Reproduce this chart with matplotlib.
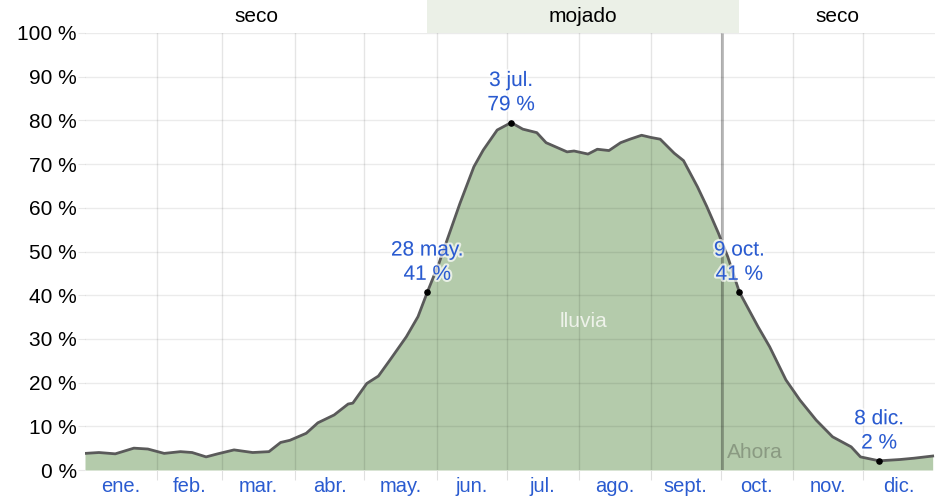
import matplotlib
matplotlib.use("Agg")
import matplotlib.pyplot as plt
import matplotlib.patheffects as pe
from matplotlib.patches import Rectangle
import numpy as np

plt.rcParams['font.family'] = ['Liberation Sans', 'DejaVu Sans']

# === Dati (giorno dell'anno, probabilita' di pioggia %)
giorni = [0, 6, 13, 21, 27, 34, 41, 46, 52, 57, 64, 72, 79, 84, 88, 95,
          100, 107, 113, 115, 121, 126, 131, 138, 143, 147, 152, 155, 161,
          167, 171, 177, 183, 188, 194, 198, 207, 210, 216, 220, 225, 230,
          234, 239, 243, 247, 253, 257, 263, 267, 272, 276, 281, 289, 294,
          301, 307, 314, 321, 329, 333, 341, 350, 356, 364]
valori = [3.8, 4.0, 3.7, 5.0, 4.8, 3.8, 4.2, 4.0, 3.0, 3.7, 4.6, 4.0, 4.2,
          6.3, 6.8, 8.4, 10.8, 12.6, 15.1, 15.3, 19.8, 21.5, 25.2, 30.5,
          35.1, 40.7, 47.3, 51.9, 61.0, 69.4, 73.2, 77.8, 79.5, 78.0, 77.2,
          74.9, 72.8, 73.0, 72.3, 73.4, 73.1, 74.9, 75.7, 76.6, 76.1, 75.7,
          72.5, 70.8, 64.8, 60.3, 54.2, 48.8, 40.7, 32.8, 28.2, 20.6, 16.0,
          11.4, 7.6, 5.3, 3.0, 2.1, 2.4, 2.7, 3.2]

mesi = ["ene.", "feb.", "mar.", "abr.", "may.", "jun.", "jul.", "ago.",
        "sept.", "oct.", "nov.", "dic."]
inizio_mesi = [0, 31, 59, 90, 120, 151, 181, 212, 243, 273, 304, 334, 365]

# stagioni (inizio, fine, nome)
stagioni = [(0, 147, "seco"), (147, 281, "mojado"), (281, 365, "seco")]

# punti annotati
punti_giorni = [147, 183, 281, 341]
punti_valori = [40.7, 79.5, 40.7, 2.1]
punti_testi = ["28 may.\n41 %", "3 jul.\n79 %", "9 oct.\n41 %", "8 dic.\n2 %"]

ORA = 273.5
BLU = "#2a5bd0"

fig = plt.figure(figsize=(9.39, 4.97), dpi=100)
ax = fig.add_axes([85 / 939, 27 / 497, 850 / 939, 437 / 497])

ax.fill_between(giorni, valori, 0, color="#b4cbab", zorder=1, lw=0)
ax.plot(giorni, valori, color="#5a5a5a", lw=2, zorder=4)

# griglia
for g in inizio_mesi[1:-1]:
    ax.axvline(g, color="#000000", alpha=0.1, lw=1, zorder=2)
for y in range(10, 101, 10):
    ax.axhline(y, color="#000000", alpha=0.08, lw=1, zorder=2)

# linea "Ahora"
ax.plot([ORA, ORA], [0, 100], color="#000000", alpha=0.28, lw=2, zorder=3, solid_capstyle="butt")
ax.text(ORA + 2, 4, "Ahora", color="#8a9a82", fontsize=15, ha="left", va="center", zorder=5)

ax.text(214, 34, "lluvia", color="#eef2ea", fontsize=15, ha="center", va="center", zorder=5)

# punti ed etichette
ax.scatter(punti_giorni, punti_valori, s=14, color="black", zorder=6)
for gx, gy, t in zip(punti_giorni, punti_valori, punti_testi):
    ax.annotate(t, (gx, gy), xytext=(0, 6), textcoords="offset points",
                ha="center", va="bottom", color=BLU, fontsize=15,
                linespacing=1.35, zorder=7,
                path_effects=[pe.withStroke(linewidth=3, foreground="white", alpha=0.7)])

# banda stagioni
trans = ax.get_xaxis_transform()
for a, b, nome in stagioni:
    if nome == "mojado":
        ax.add_patch(Rectangle((a, 1.0), b - a, 33 / 437, transform=trans,
                               facecolor="#ebf0e7", edgecolor="none", clip_on=False, zorder=0))
    ax.text((a + b) / 2, 1.0 + 16 / 437, nome, transform=trans, ha="center",
            va="center", fontsize=15, color="black")

ax.set_xlim(0, 365)
ax.set_ylim(0, 100)
ax.set_yticks(range(0, 101, 10))
ax.set_yticklabels([f"{y} %" for y in range(0, 101, 10)], fontsize=15)
ax.set_xticks(inizio_mesi[1:-1])
ax.set_xticklabels([])
ax.set_xticks([(inizio_mesi[i] + inizio_mesi[i + 1]) / 2 for i in range(12)], minor=True)
ax.set_xticklabels(mesi, minor=True, color=BLU, fontsize=14.5)
ax.tick_params(axis="x", which="major", length=7, color="#e0e0e0")
ax.tick_params(axis="x", which="minor", length=0, pad=5)
ax.tick_params(axis="y", length=5, color="#e8e8e8", pad=1)
for s in ax.spines.values():
    s.set_visible(False)

fig.savefig("out.png", dpi=100)
